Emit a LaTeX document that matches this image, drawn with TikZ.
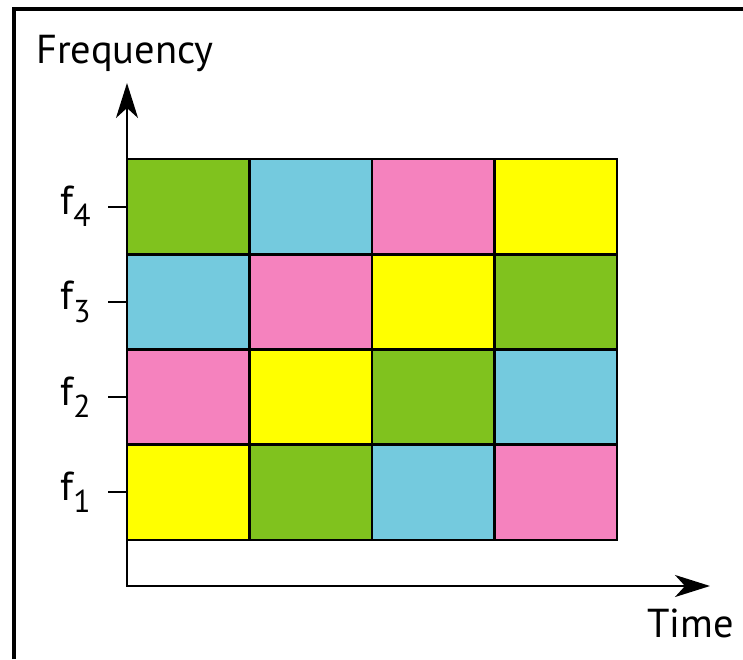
\documentclass[tikz,border=0pt]{standalone}
\usepackage{fontspec}
\setmainfont{PT Sans}
\usetikzlibrary{arrows.meta,positioning}
\definecolor{grn}{RGB}{128,194,30}
\definecolor{cyn}{RGB}{116,202,222}
\definecolor{pnk}{RGB}{245,130,190}
\definecolor{yel}{RGB}{255,255,0}
\tikzset{
  cell/.style={draw,line width=0.055cm,minimum width=2.45cm,minimum height=1.905cm,inner sep=0pt},
  axis/.style={line width=0.045cm,{Stealth[length=7mm,width=4.4mm,inset=2mm]}-{Stealth[length=7mm,width=4.4mm,inset=2mm]}},
  tck/.style={line width=0.04cm},
  lbl/.style={inner sep=0pt,font=\fontsize{23}{27}\selectfont},
  frm/.style={line width=0.08cm},
}

\begin{document}
\begin{tikzpicture}[x=0.02cm,y=-0.02cm]
  \useasboundingbox (0,0) rectangle (743,659);
  \draw[frm] (14,659) -- (14,9) -- (743,9);
  % time slots x frequency bands
  \foreach \r/\cols in {4/{grn,cyn,pnk,yel},3/{cyn,pnk,yel,grn},2/{pnk,yel,grn,cyn},1/{yel,grn,cyn,pnk}}{
    \foreach \col [count=\c] in \cols
      \node[cell,fill=\col] (c\r\c) at ({127+122.5*(\c-0.5)},{159+95.25*(4.5-\r)}) {};
    \coordinate (t\r) at (108,{159+95.25*(4.5-\r)});
    \draw[tck] (t\r) -- (c\r1.west);
    \node[lbl,left=0.34cm of t\r] (f\r) {f\raisebox{-0.3em}{\fontsize{18}{21}\selectfont\r}};
  }
  \coordinate (o) at (127,586);
  \coordinate (ytip) at (127,83);
  \coordinate (xtip) at (710,586);
  \draw[axis] (ytip) -- (o) -- (xtip);
  \node[lbl,anchor=base west] (freq) at (36,63) {Frequency};
  \node[lbl,anchor=base west] (time) at (647,637) {Time};
\end{tikzpicture}
\end{document}
